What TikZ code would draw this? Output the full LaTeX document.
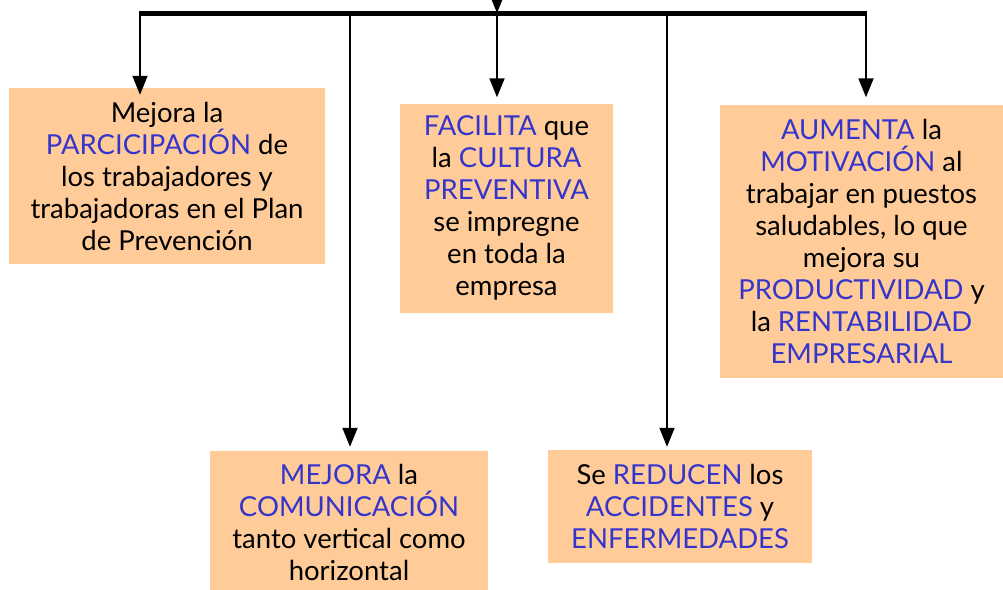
\documentclass[tikz,border=0pt]{standalone}
\usepackage{fontspec}
\setmainfont{Lato}
\usetikzlibrary{arrows.meta,calc}
\definecolor{peach}{HTML}{FFCC99}
\definecolor{kw}{HTML}{3535CC}
\newcommand{\kw}[1]{\textcolor{kw}{#1}}
\begin{document}
\begin{tikzpicture}[x=1pt,y=-1pt,
  box/.style={fill=peach, draw=none, align=center, inner sep=0pt,
    font=\fontsize{27.5}{32}\selectfont},
  conn/.style={line width=1.8pt, -{Triangle[length=19pt,width=15pt]}},
  plain/.style={line width=1.8pt},
  bar/.style={line width=5pt}]
\useasboundingbox (0,0) rectangle (1003,589);
% boxes
\node[box, minimum width=316pt, minimum height=176pt] (b1) at (167,176)
  {Mejora la\\ \kw{PARCICIPACIÓN} de\\ los trabajadores y\\ trabajadoras en el Plan\\ de Prevención};
\node[box, minimum width=213pt, minimum height=209pt] (b2) at (506.5,208)
  {\kw{FACILITA} que\\ la \kw{CULTURA}\\ \kw{PREVENTIVA}\\ se impregne\\ en toda la\\ empresa};
\node[box, minimum width=283pt, minimum height=273pt] (b3) at (861.5,241)
  {\kw{AUMENTA} la\\ \kw{MOTIVACIÓN} al\\ trabajar en puestos\\ saludables, lo que\\ mejora su\\ \kw{PRODUCTIVIDAD} y\\ la \kw{RENTABILIDAD}\\ \kw{EMPRESARIAL}};
\node[box, minimum width=278pt, minimum height=142pt] (b4) at (349,522)
  {\kw{MEJORA} la\\ \kw{COMUNICACIÓN}\\ tanto vertical como\\ horizontal};
\node[box, minimum width=264pt, minimum height=113pt] (b5) at (680,506.5)
  {Se \kw{REDUCEN} los\\ \kw{ACCIDENTES} y\\ \kw{ENFERMEDADES}};
% bar
\coordinate (bl) at (140,13);
\coordinate (br) at (866,13);
\coordinate (t1) at (140,13);
\coordinate (t4) at (350,13);
\coordinate (t2) at (497,13);
\coordinate (t5) at (667,13);
\coordinate (t3) at (866,13);
\coordinate (top) at (497,-12);
\draw[bar] ([xshift=-1pt]bl) -- ([xshift=1pt]br);
\draw[conn] (top) -- (t2);
\draw[conn, shorten >=-7pt] (t1) -- (t1 |- b1.north);
\draw[conn, shorten >=6pt] (t2) -- (t2 |- b2.north);
\draw[conn, shorten >=7pt] (t3) -- (t3 |- b3.north);
\draw[conn, shorten >=4pt] (t4) -- (t4 |- b4.north);
\draw[conn, shorten >=3pt] (t5) -- (t5 |- b5.north);
\end{tikzpicture}
\end{document}
